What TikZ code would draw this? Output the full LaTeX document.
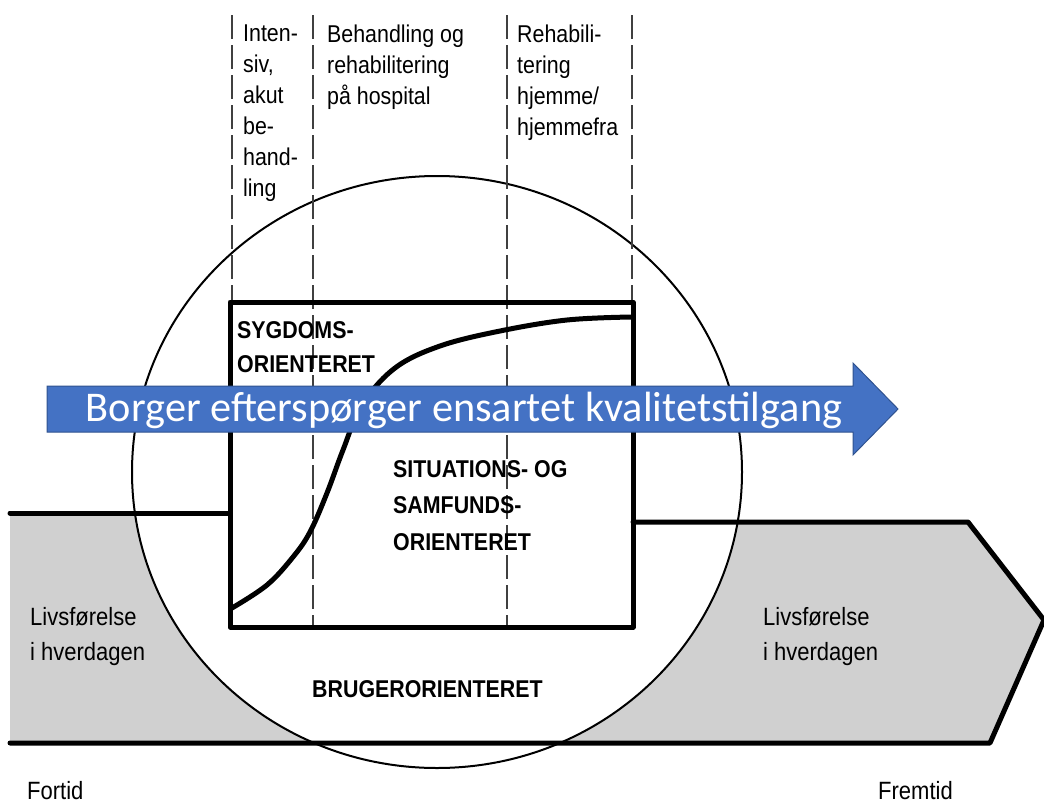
\documentclass[tikz,border=0pt]{standalone}
\usepackage{fontspec}
\setmainfont[FakeStretch=0.88]{Liberation Sans}
\newfontfamily\calib{Carlito}
\definecolor{bandgray}{RGB}{208,208,208}
\definecolor{arrowblue}{RGB}{68,114,196}
\definecolor{arrowedge}{RGB}{47,82,143}
\tikzset{
  heavy/.style={line width=5pt, line join=round, line cap=round},
  dashline/.style={line width=1.3pt, draw=black!75, dash pattern=on 24pt off 6pt},
  lbl/.style={inner sep=0pt, anchor=north west, align=left},
  toptext/.style={lbl, font=\fontsize{24.3}{31}\selectfont},
  boldtext/.style={lbl, font=\fontsize{24.3}{34}\selectfont\bfseries},
  plaintext/.style={lbl, font=\fontsize{25}{35}\selectfont},
}
\begin{document}
\begin{tikzpicture}[x=1pt,y=-1pt]
\useasboundingbox (0,0) rectangle (1044,803);
% gray band outside the circle
\begin{scope}
  \clip (10,513) -- (232,513) -- (232,522) -- (968,522) -- (1044,620) -- (990,743) -- (10,743) -- cycle;
  \fill[bandgray, even odd rule] (0,500) rectangle (1044,760) (437,472) ellipse [x radius=305, y radius=296];
\end{scope}
% circle
\draw[line width=2pt] (437,472) ellipse [x radius=305, y radius=296];
% band outlines
\draw[heavy] (10,513) -- (230,513);
\draw[heavy] (633,522) -- (968,522) -- (1044,620) -- (990,743) -- (10,743);
% dashed separators
\draw[dashline] (232,15) -- (232,630);
\draw[dashline] (313,15) -- (313,630);
\draw[dashline] (507,15) -- (507,630);
\draw[dashline] (632,15) -- (632,300);
% box
\draw[heavy] (230,302) rectangle (633,627);
% S-curve
\draw[heavy, line cap=butt] plot[smooth, tension=0.6] coordinates {(232,608) (267,585) (293,557) (310,532) (327,493) (343,450) (362,405) (395,368) (440,346) (500,331) (567,320) (631,317)};
% top texts
\node[toptext] (intensiv) at (243,25) {Inten-\\siv,\\akut\\be-\\hand-\\ling};
\node[toptext] (hospital) at (327,25) {Behandling og\\rehabilitering\\på hospital};
\node[toptext] (hjemme) at (517,25) {Rehabili-\\tering\\hjemme/\\hjemmefra};
% box texts
\node[boldtext] (sygdom) at (237,321) {SYGDOMS-\\ORIENTERET};
\node[boldtext, font=\fontsize{24.3}{36.5}\selectfont\bfseries] (situation) at (393,460) {SITUATIONS- OG\\SAMFUNDS-\\ORIENTERET};
\node[boldtext] (bruger) at (312,680) {BRUGERORIENTERET};
% band texts
\node[plaintext] (livL) at (30,607) {Livsførelse\\i hverdagen};
\node[plaintext] (livR) at (763,607) {Livsførelse\\i hverdagen};
\node[plaintext] (fortid) at (27,781) {Fortid};
\node[plaintext] (fremtid) at (878,781) {Fremtid};
% blue arrow
\fill[arrowblue, draw=arrowedge, line width=1pt] (47,386) -- (853,386) -- (853,363) -- (898,409) -- (853,455) -- (853,432) -- (47,432) -- cycle;
\node[text=white, inner sep=0pt, font=\calib\fontsize{42.3}{44}\selectfont] (borger) at (464,410) {Borger efterspørger ensartet kvalitetstilgang};
\end{tikzpicture}
\end{document}
